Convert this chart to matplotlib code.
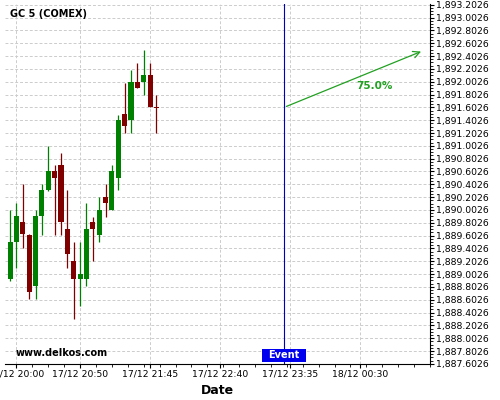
import pandas as pd
import numpy as np
import matplotlib
matplotlib.use('Agg')
import matplotlib.pyplot as plt
import matplotlib.dates as mdates
import matplotlib.transforms as mtransforms
from matplotlib.patches import Rectangle

c_up = '#008000'
c_down = '#800000'
c_arrow = '#22a022'

# 5-minute candles, 17/12
times = ['19:55', '20:00', '20:05', '20:10', '20:15', '20:20', '20:25', '20:30',
         '20:35', '20:40', '20:45', '20:50', '20:55', '21:00', '21:05', '21:10',
         '21:15', '21:20', '21:25', '21:30', '21:35', '21:40', '21:45', '21:50']
opens = [1888.92, 1889.51, 1889.82, 1889.61, 1888.82, 1889.91, 1890.31, 1890.61,
         1890.70, 1889.71, 1889.21, 1888.92, 1888.92, 1889.82, 1889.61, 1890.20,
         1890.00, 1890.50, 1891.50, 1891.41, 1892.00, 1892.00, 1892.10, 1891.61]
highs = [1890.00, 1890.11, 1890.40, 1889.62, 1890.00, 1890.40, 1891.00, 1890.70,
         1890.89, 1890.31, 1889.50, 1889.50, 1890.11, 1889.90, 1890.20, 1890.40,
         1890.70, 1891.49, 1891.98, 1892.19, 1892.29, 1892.49, 1892.29, 1891.80]
lows = [1888.90, 1889.10, 1889.41, 1888.61, 1888.61, 1889.61, 1890.30, 1889.61,
        1889.61, 1889.10, 1888.30, 1888.50, 1888.82, 1889.21, 1889.50, 1889.90,
        1890.00, 1890.31, 1891.20, 1891.20, 1891.90, 1891.80, 1891.61, 1891.20]
closes = [1889.50, 1889.91, 1889.62, 1888.72, 1889.91, 1890.31, 1890.61, 1890.50,
          1889.82, 1889.32, 1888.92, 1889.01, 1889.71, 1889.71, 1890.00, 1890.11,
          1890.61, 1891.40, 1891.31, 1892.00, 1891.90, 1892.10, 1891.61, 1891.60]

event_time = '2020-12-17 23:30'
arrow_end_time = '2020-12-18 01:20'
arrow_start_val = 1891.60
arrow_end_val = 1892.49
prob_label = '75.0%'

xtick_times = ['2020-12-17 20:00', '2020-12-17 20:50', '2020-12-17 21:45',
               '2020-12-17 22:40', '2020-12-17 23:35', '2020-12-18 00:30']
ytick_vals = np.arange(1887.6026, 1893.21, 0.2)

df = pd.DataFrame({'time': pd.to_datetime(['2020-12-17 ' + t for t in times]),
                   'open': opens, 'high': highs, 'low': lows, 'close': closes})

fig = plt.figure(figsize=(5, 4), dpi=100)
ax = fig.add_axes([0.01, 0.09, 0.85, 0.90])

x = mdates.date2num(df['time'])
w = 4 / 1440
for xi, o, h, l, c in zip(x, df['open'], df['high'], df['low'], df['close']):
    col = c_up if c >= o else c_down
    ax.vlines(xi, l, h, color=col, lw=0.9, zorder=3)
    body = max(abs(c - o), 0.005)
    ax.bar(xi, body, bottom=min(o, c), width=w, color=col, zorder=3, lw=0)

ev = mdates.date2num(pd.Timestamp(event_time))
ax.axvline(ev, color='#0000bb', lw=0.8, zorder=4)
ax.annotate('', xy=(mdates.date2num(pd.Timestamp(arrow_end_time)), arrow_end_val),
            xytext=(ev, arrow_start_val),
            arrowprops=dict(arrowstyle='->', color=c_arrow, lw=0.9, mutation_scale=12), zorder=5)
ax.text(mdates.date2num(pd.Timestamp('2020-12-18 00:41')), 1891.93, prob_label,
        color=c_arrow, fontsize=7.5, fontweight='bold', ha='center', va='center')

# limits
ax.set_xlim(mdates.date2num(pd.Timestamp('2020-12-17 19:51')),
            mdates.date2num(pd.Timestamp('2020-12-18 01:25')))
ax.set_ylim(1887.6, 1893.215)

# axes style
ax.yaxis.tick_right()
ax.spines['left'].set_visible(False)
ax.spines['top'].set_visible(False)
ax.set_yticks(ytick_vals)
ax.set_yticklabels([f'{v:,.4f}' for v in ytick_vals], fontsize=6.7)
ax.yaxis.set_minor_locator(matplotlib.ticker.AutoMinorLocator(4))
xt = mdates.date2num(pd.to_datetime(xtick_times))
ax.set_xticks(xt)
ax.set_xticklabels([pd.Timestamp(t).strftime('%d/%m %H:%M') for t in xtick_times], fontsize=6.7)
ax.xaxis.set_minor_locator(matplotlib.ticker.AutoMinorLocator(4))
ax.tick_params(axis='both', length=3, pad=1)
ax.tick_params(axis='both', which='minor', length=2)
ax.grid(True, color='#cccccc', linestyle='--', lw=0.7, dashes=(3, 2))
ax.set_axisbelow(True)
ax.set_xlabel('Date', fontsize=9, fontweight='bold', labelpad=4)

ax.text(0.012, 0.985, 'GC 5 (COMEX)', transform=ax.transAxes, fontsize=7,
        fontweight='bold', va='top', ha='left')
ax.text(0.024, 0.03, 'www.delkos.com', transform=ax.transAxes, fontsize=7,
        fontweight='bold', va='center', ha='left')

# Event tag at the foot of the event line
trans = mtransforms.blended_transform_factory(ax.transData, ax.transAxes)
half = 17.3 / 1440
ax.add_patch(Rectangle((ev - half, 0.006), 2 * half, 0.036, transform=trans,
                       fc='#0000ee', ec='none', zorder=6))
ax.text(ev, 0.024, 'Event', transform=trans, color='white', fontsize=7,
        fontweight='bold', ha='center', va='center', zorder=7)

fig.savefig('out.png', dpi=100)
